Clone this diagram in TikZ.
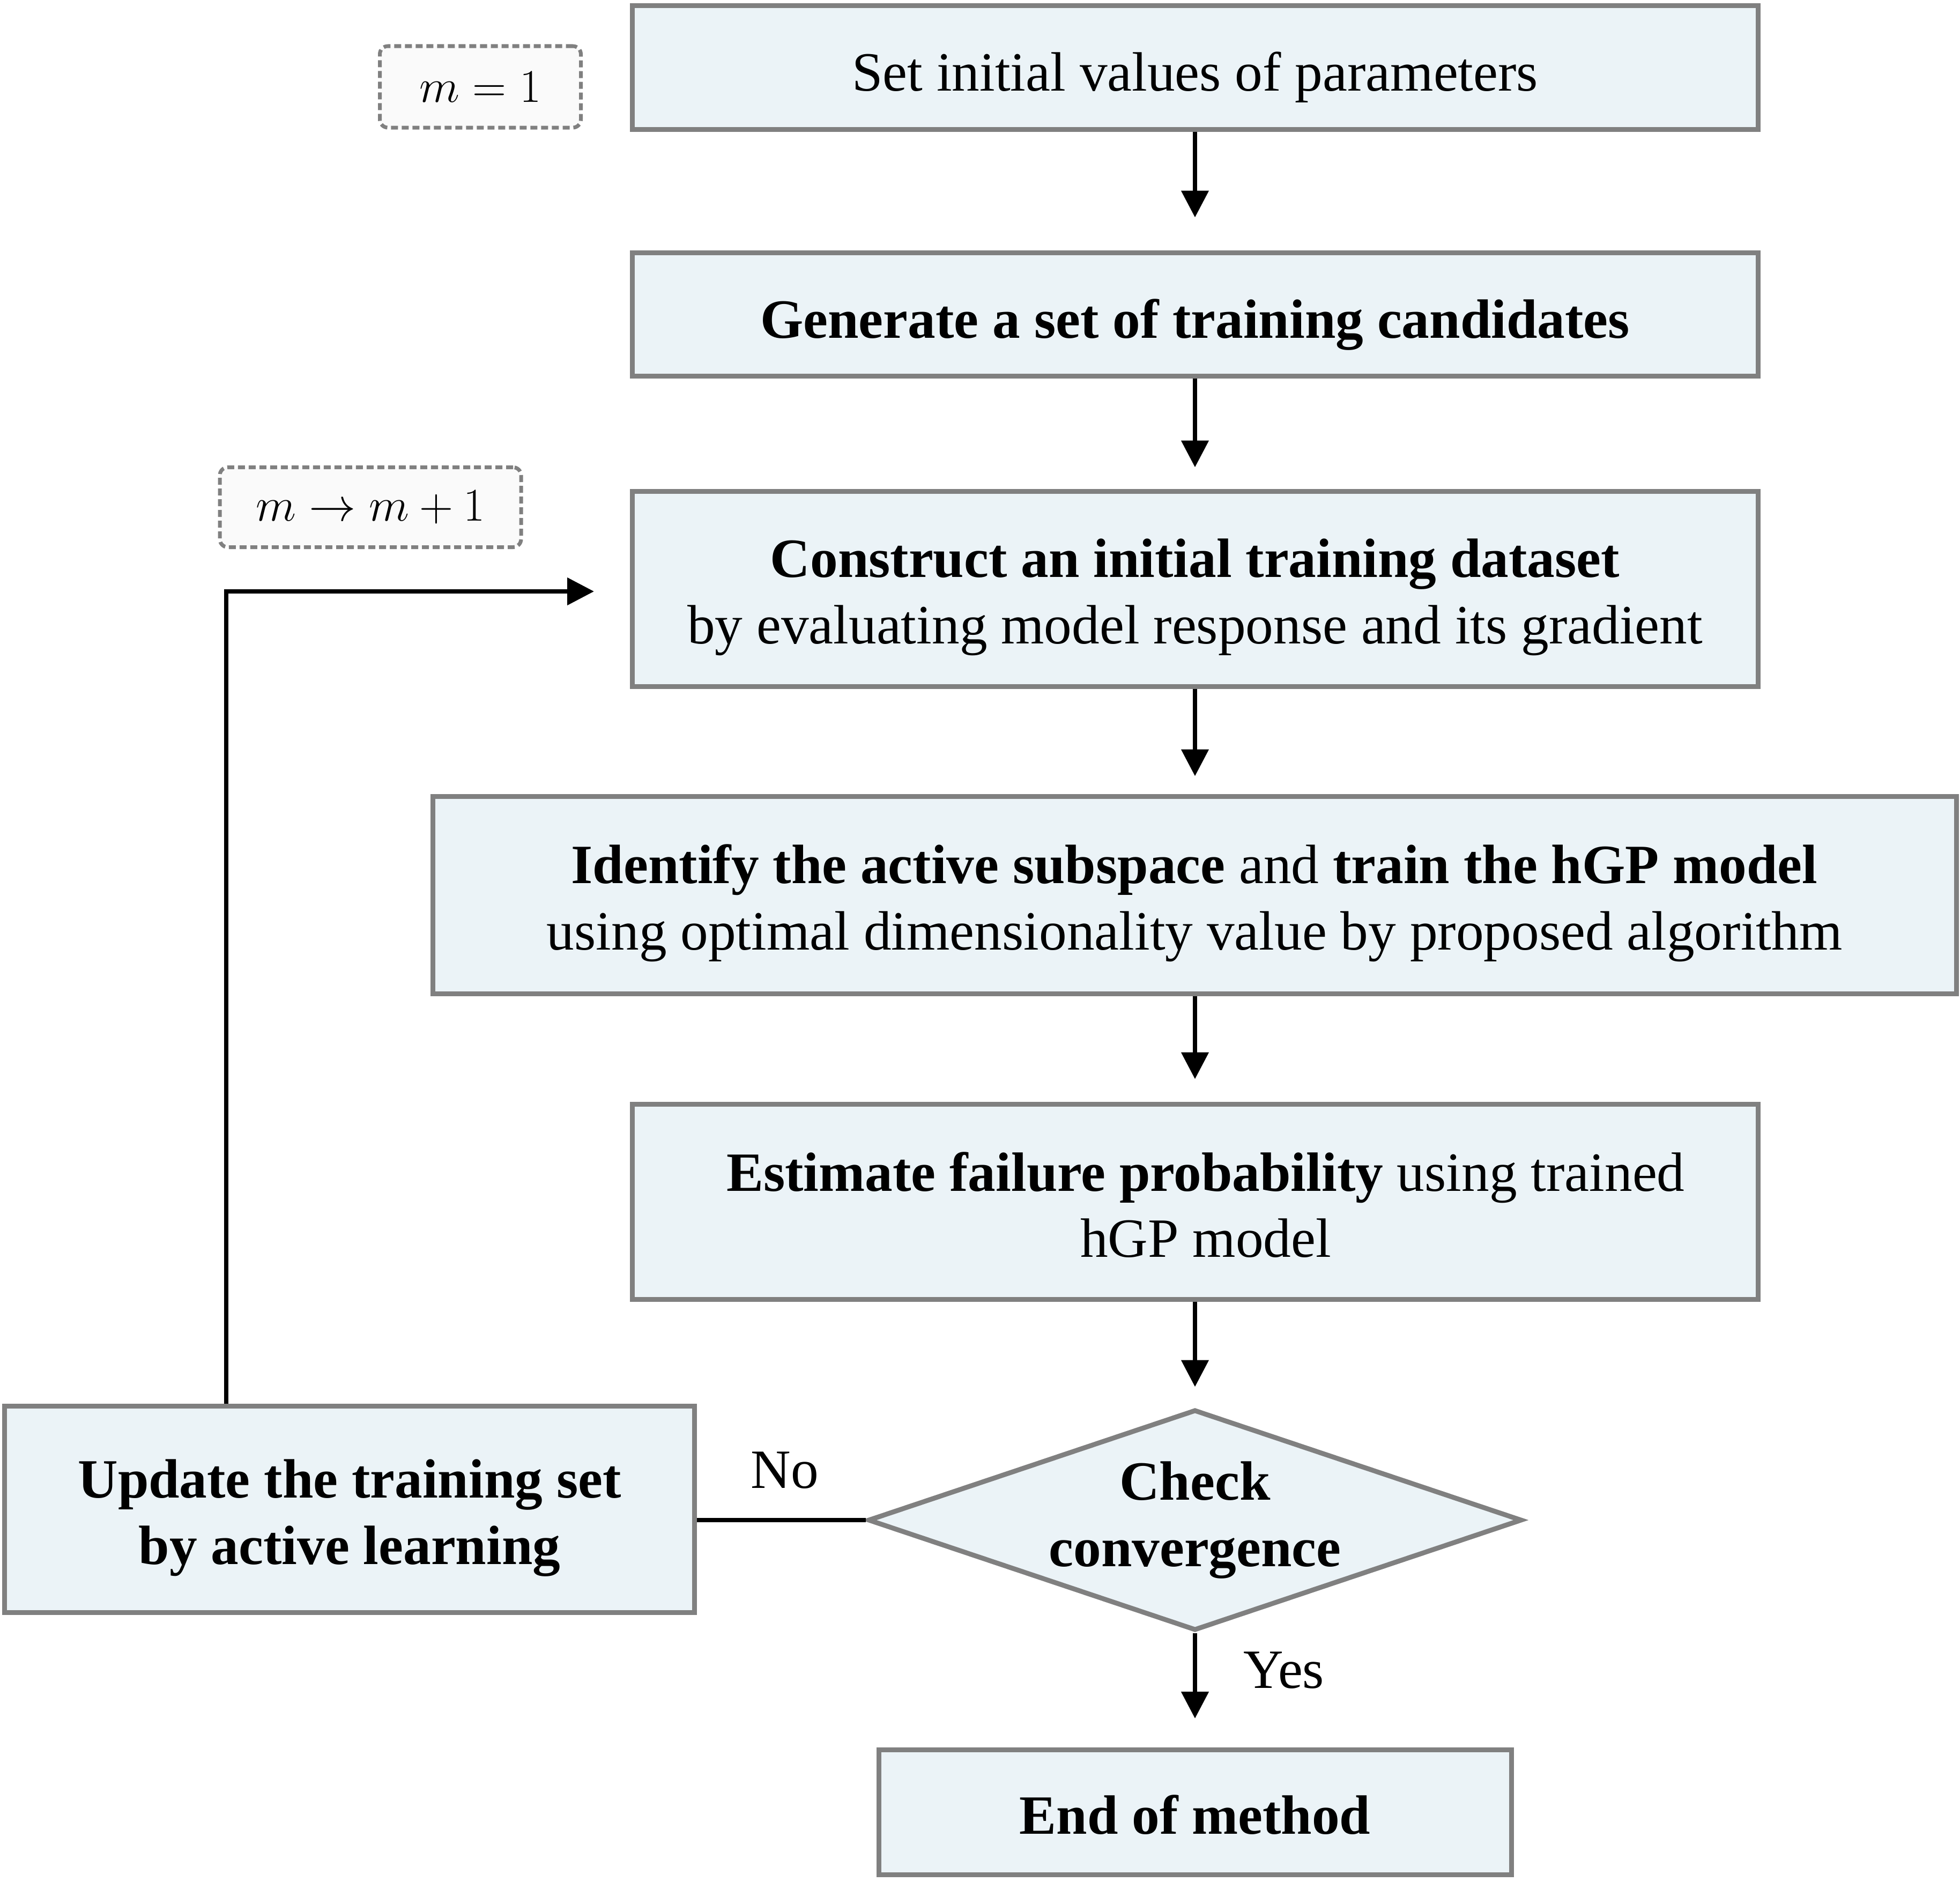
\documentclass[tikz,border=0pt]{standalone}
\usepackage{fontspec}
\setmainfont{Liberation Serif}
\usetikzlibrary{shapes.geometric,arrows.meta}
\definecolor{boxfill}{HTML}{EBF3F7}
\definecolor{boxline}{HTML}{808080}
\definecolor{notefill}{HTML}{FAFAFA}
\tikzset{
  txt/.style={font=\fontsize{29.4}{35.2}\selectfont},
  mathtxt/.style={font=\fontsize{31.5}{38}\selectfont},
  procbox/.style={draw=boxline, fill=boxfill, line width=0.09cm, inner sep=0pt},
  boxtext/.style={txt, align=center, inner sep=0pt},
  decbox/.style={txt, diamond, aspect=2.96, draw=boxline, fill=boxfill, line width=0.09cm, align=center, inner sep=0pt, minimum width=12.2cm, minimum height=4.12cm},
  notebox/.style={mathtxt, draw=boxline, fill=notefill, line width=0.07cm, dash pattern=on 0.13cm off 0.07cm, rounded corners=0.15cm, inner sep=0pt},
  flow/.style={line width=0.08cm, -{Triangle[length=0.5cm,width=0.5cm]}},
  plainline/.style={line width=0.08cm},
  lbl/.style={txt, inner sep=0pt}
}
\begin{document}
\begin{tikzpicture}
\useasboundingbox (0,0) rectangle (36.56,-35.10);

\node[procbox, minimum width=21.0cm, minimum height=2.3cm] (b1) at (22.29,-1.26) {};
\node[boxtext] (b1t) at ([yshift=-0.18cm]b1.center) {Set initial values of parameters};
\node[procbox, minimum width=21.0cm, minimum height=2.3cm] (b2) at (22.29,-5.86) {};
\node[boxtext] (b2t) at ([yshift=-0.2cm]b2.center) {\textbf{Generate a set of training candidates}};
\node[procbox, minimum width=21.0cm, minimum height=3.64cm] (b3) at (22.29,-10.98) {};
\node[boxtext] (b3t) at ([yshift=-0.16cm]b3.center) {\textbf{Construct an initial training dataset}\\by evaluating model response and its gradient};
\node[procbox, minimum width=28.42cm, minimum height=3.68cm] (b4) at (22.28,-16.69) {};
\node[boxtext] (b4t) at ([yshift=-0.15cm]b4.center) {\textbf{Identify the active subspace} and \textbf{train the hGP model}\\using optimal dimensionality value by proposed algorithm};
\node[procbox, minimum width=21.0cm, minimum height=3.64cm] (b5) at (22.29,-22.41) {};
\node[boxtext] (b5t) at ([xshift=0.2cm,yshift=-0.06cm]b5.center) {\textbf{Estimate failure probability} using trained\\hGP model};
\node[decbox] (chk) at (22.29,-28.35) {\textbf{Check}\\\textbf{convergence}};
\node[procbox, minimum width=12.87cm, minimum height=3.85cm] (upd) at (6.52,-28.15) {};
\node[boxtext] (updt) at ([yshift=-0.16cm]upd.center) {\textbf{Update the training set}\\\textbf{by active learning}};
\node[procbox, minimum width=11.8cm, minimum height=2.33cm] (end) at (22.29,-33.80) {};
\node[boxtext] (endt) at ([yshift=-0.05cm]end.center) {\textbf{End of method}};

\node[notebox, minimum width=3.75cm, minimum height=1.52cm] (n1) at (8.96,-1.62) {$m=1$};
\node[notebox, minimum width=5.62cm, minimum height=1.49cm] (n2) at (6.91,-9.46) {$m\rightarrow m+1$};

\draw[flow, shorten >=0.61cm] (b1.south) -- (b2.north);
\draw[flow, shorten >=0.40cm] (b2.south) -- (b3.north);
\draw[flow, shorten >=0.33cm] (b3.south) -- (b4.north -| b3.south);
\draw[flow, shorten >=0.42cm] (b4.south -| b5.north) -- (b5.north);
\draw[flow, shorten >=0.38cm] (b5.south) -- (chk.north);
\draw[flow, shorten >=0.54cm] (chk.south) -- (end.north);

\draw[plainline] (chk.west) -- (upd.east |- chk.west);
\coordinate (loopx) at (4.22,-11.03);
\coordinate (loopend) at (11.08,-11.03);
\draw[flow] (upd.north -| loopx) -- (loopx) -- (loopend);

\node[lbl] (no) at (14.64,-27.42) {No};
\node[lbl] (yes) at (23.95,-31.15) {Yes};
\end{tikzpicture}
\end{document}
